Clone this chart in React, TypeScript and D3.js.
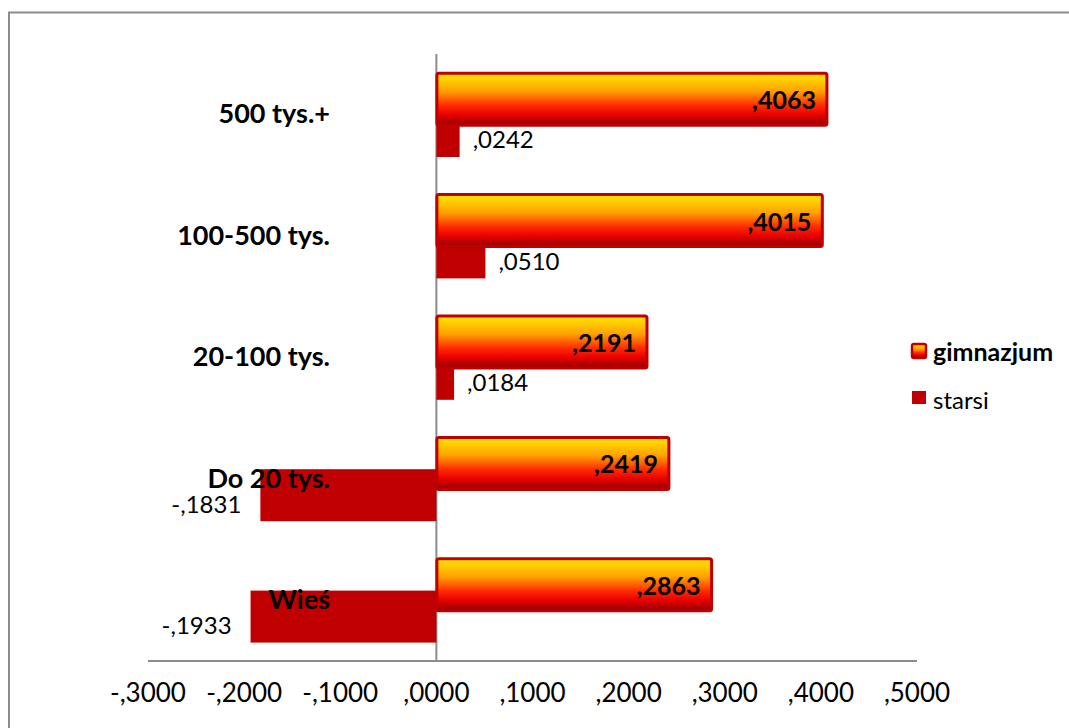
import React from "react";
import * as d3 from "d3";

const categories = ["500 tys.+", "100-500 tys.", "20-100 tys.", "Do 20 tys.", "Wieś"];
const gimnazjum = [0.4063, 0.4015, 0.2191, 0.2419, 0.2863];
const starsi = [0.0242, 0.051, 0.0184, -0.1831, -0.1933];
const xTicks = [-0.3, -0.2, -0.1, 0, 0.1, 0.2, 0.3, 0.4, 0.5];
const seriesNames = ["gimnazjum", "starsi"];

const W = 1069;
const H = 728;
const FONT = "Lato, 'Open Sans', sans-serif";
const RED = "#C00000";
const GRAY = "#8C8C8C";

const fmt = (v: number) => {
  const s = Math.abs(v).toFixed(4).replace(/^0\./, ",");
  return (v < 0 ? "-" : "") + s;
};

export default function App() {
  const x = d3.scaleLinear().domain([-0.3, 0.5]).range([148, 917]);
  const y = d3.scaleBand<string>().domain(categories).range([54, 661]).paddingInner(0).paddingOuter(0);
  const x0 = x(0);
  const barH = 52;

  return (
    <svg
      width={W}
      height={H}
      style={{ position: "absolute", left: 0, top: 0, background: "#fff" }}
      fontFamily={FONT}
    >
      <defs>
        <linearGradient id="gimGrad" x1="0" y1="0" x2="0" y2="1">
          <stop offset="0%" stopColor="#FFE800" />
          <stop offset="35%" stopColor="#FFA000" />
          <stop offset="62%" stopColor="#FF2A00" />
          <stop offset="80%" stopColor="#E80000" />
          <stop offset="100%" stopColor="#900000" />
        </linearGradient>
      </defs>
      <rect x={9} y={12.5} width={1200} height={900} fill="#fff" stroke={GRAY} strokeWidth={2} />

      {/* axes */}
      <line x1={x0} x2={x0} y1={54} y2={661} stroke={GRAY} strokeWidth={2} />

      {/* starsi bars (behind) */}
      {categories.map((c, i) => {
        const b = y(c)!;
        const v = starsi[i];
        const xa = Math.min(x(v), x0);
        const w = Math.abs(x(v) - x0);
        return <rect key={"s" + c} x={xa} y={b + 51} width={w} height={barH} fill={RED} />;
      })}

      {/* gimnazjum bars */}
      {categories.map((c, i) => {
        const b = y(c)!;
        const v = gimnazjum[i];
        return (
          <rect
            key={"g" + c}
            x={x0 + 0.5}
            y={b + 19.2}
            width={x(v) - x0 - 0.5}
            height={barH}
            fill="url(#gimGrad)"
            stroke={RED}
            strokeWidth={3}
            rx={2}
          />
        );
      })}

      <line x1={148} x2={917} y1={661} y2={661} stroke={GRAY} strokeWidth={2} />

      {/* gimnazjum labels */}
      {categories.map((c, i) => {
        const b = y(c)!;
        const v = gimnazjum[i];
        return (
          <text
            key={"gl" + c}
            x={x(v) - 11}
            y={b + 46.5}
            dy="0.35em"
            textAnchor="end"
            fontWeight="bold"
            fontSize={25}
            fill="#000"
          >
            {fmt(v)}
          </text>
        );
      })}

      {/* starsi labels */}
      {categories.map((c, i) => {
        const b = y(c)!;
        const v = starsi[i];
        const pos = v >= 0;
        return (
          <text
            key={"sl" + c}
            x={pos ? x(v) + 13 : x(v) - 19}
            y={b + 86}
            dy="0.35em"
            textAnchor={pos ? "start" : "end"}
            fontSize={24}
            fill="#000"
          >
            {fmt(v)}
          </text>
        );
      })}

      {/* category labels */}
      {categories.map((c) => (
        <text
          key={"c" + c}
          x={330}
          y={y(c)! + 60}
          dy="0.35em"
          textAnchor="end"
          fontWeight="bold"
          fontSize={27}
          fill="#000"
        >
          {c}
        </text>
      ))}

      {/* x tick labels */}
      {xTicks.map((t) => (
        <text key={"t" + t} x={x(t)} y={693} dy="0.35em" textAnchor="middle" fontSize={26} fill="#000">
          {fmt(t)}
        </text>
      ))}

      {/* legend */}
      <rect x={912} y={344} width={14} height={14} rx={2} fill="url(#gimGrad)" stroke={RED} strokeWidth={2.5} />
      <text x={933} y={352} dy="0.35em" fontWeight="bold" fontSize={25} fill="#000">
        {seriesNames[0]}
      </text>
      <rect x={912} y={391} width={14} height={13} fill={RED} />
      <text x={933} y={401} dy="0.35em" fontSize={24} fill="#000">
        {seriesNames[1]}
      </text>
    </svg>
  );
}
